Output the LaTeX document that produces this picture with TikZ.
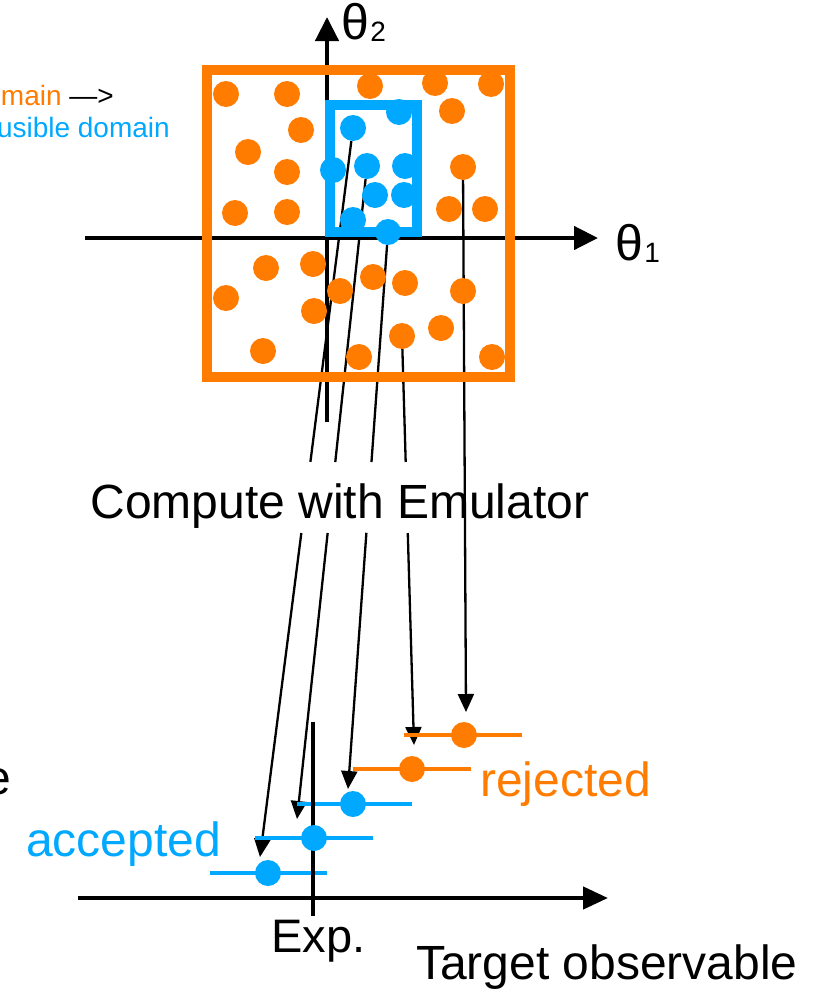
\documentclass[tikz,border=0pt]{standalone}
\usepackage{fontspec}
\setmainfont{Liberation Sans}
\usetikzlibrary{arrows.meta,calc}
\definecolor{orng}{RGB}{255,124,0}
\definecolor{skyb}{RGB}{0,168,255}
\pgfdeclarelayer{bg}
\pgfsetlayers{bg,main}
\begin{document}
\begin{tikzpicture}[x=1pt,y=-1pt,
  odot/.style={circle,fill=orng,draw=none,inner sep=0pt,minimum size=26pt},
  bdot/.style={circle,fill=skyb,draw=none,inner sep=0pt,minimum size=26pt},
  axisline/.style={line width=4.5pt,-{Triangle[length=24pt,width=23pt]}},
  conn/.style={line width=2.3pt,black},
  connarr/.style={conn,-{Triangle[length=18pt,width=16pt]}},
  ebar/.style={line width=4.5pt},
  lbl/.style={inner sep=0pt,font=\fontsize{48}{50}\selectfont},
  small/.style={inner sep=0pt,font=\fontsize{28}{30}\selectfont}
]
\useasboundingbox (0,0) rectangle (819,991);
\clip (0,0) rectangle (819,991);

% ---------- parameter space ----------
\draw[orng,line width=10pt] (206.7,70) rectangle (510,376.7);
\foreach \x/\y [count=\i] in {226/94,287/94,370/86,435/83,491/84,452/111,301/130,248/152,287/172,463/167,235/213,287/212,449/209,485/209,266/268,313/264,226/298,340/291,373/277,405/283,463/291,314/311,263/351,359/357,402/336,441/328,492/357}
  \node[odot] (o\i) at (\x,\y) {};
\draw[skyb,line width=10pt] (330,104.7) rectangle (416.7,231.7);
\foreach \x/\y [count=\i] in {399/112,353/128,333/170,367/166,405/166,375/195,404/195,353/220,388/232}
  \node[bdot] (b\i) at (\x,\y) {};

% axes
\coordinate (v0) at (327,422);
\coordinate (v1) at (327,17);
\coordinate (h0) at (85,238);
\coordinate (h1) at (598,238);
\begin{pgfonlayer}{bg}
\draw[axisline] (v0) -- (v1);
\draw[axisline] (h0) -- (h1);
\end{pgfonlayer}

\node[inner sep=0pt,anchor=base west,font=\fontsize{50}{50}\selectfont] (th2) at (341,39) {θ};
\node[inner sep=0pt,anchor=base west,font=\fontsize{28}{28}\selectfont] (th2s) at ($(th2.base east)+(1,2)$) {2};
\node[inner sep=0pt,anchor=base west,font=\fontsize{50}{50}\selectfont] (th1) at (615,260) {θ};
\node[inner sep=0pt,anchor=base west,font=\fontsize{28}{28}\selectfont] (th1s) at ($(th1.base east)+(1,2)$) {1};

\node[small,anchor=base east] (prior) at (114,105) {\textcolor{orng}{main} —>};
\node[small,anchor=base east,text=skyb] (plaus) at (170,137) {usible domain};

\node[lbl,anchor=base west] (cut) at (-16,794) {e};

\node[inner sep=0pt,anchor=base,font=\fontsize{48}{50}\selectfont] (comp) at (340,518) {Compute with Emulator};

% ---------- observable plot ----------
\coordinate (t1) at (260,857);
\coordinate (t2) at (297,819);
\coordinate (t3) at (348,789);
\coordinate (t4) at (414,745);
\coordinate (t5) at (466,712);

\coordinate (g1a) at ($(b2.center)!0.458!(t1)$);
\coordinate (g1b) at ($(b2.center)!0.5556!(t1)$);
\coordinate (g2a) at ($(b4.center)!0.4533!(t2)$);
\coordinate (g2b) at ($(b4.center)!0.562!(t2)$);
\coordinate (g3a) at ($(b9.center)!0.413!(t3)$);
\coordinate (g3b) at ($(b9.center)!0.540!(t3)$);
\coordinate (g4a) at ($(o25.center)!0.308!(t4)$);
\coordinate (g4b) at ($(o25.center)!0.4817!(t4)$);

\begin{pgfonlayer}{bg}
\draw[conn] (b2) -- (g1a);
\draw[connarr] (g1b) -- (t1);
\draw[conn] (b4) -- (g2a);
\draw[connarr] (g2b) -- (t2);
\draw[conn] (b9) -- (g3a);
\draw[connarr] (g3b) -- (t3);
\draw[conn] (o25) -- (g4a);
\draw[connarr] (g4b) -- (t4);
\draw[connarr] (o10) -- (t5);
\end{pgfonlayer}

\coordinate (x0) at (78,898);
\coordinate (x1) at (608,898);
\draw[line width=4.5pt,-{Triangle[length=25pt,width=22pt]}] (x0) -- (x1);

\draw[ebar,skyb] (210,873) -- (327,873);
\draw[ebar,skyb] (255,838) -- (373,838);
\draw[ebar,skyb] (297,804) -- (412,804);
\draw[ebar,orng] (353,769) -- (471,769);
\draw[ebar,orng] (404,735) -- (522,735);

\coordinate (ex0) at (313,722);
\coordinate (ex1) at (313,916);
\draw[line width=4.5pt] (ex0) -- (ex1);

\node[bdot] (e1) at (268,873) {};
\node[bdot] (e2) at (314,838) {};
\node[bdot] (e3) at (353,804) {};
\node[odot] (e4) at (412,769) {};
\node[odot] (e5) at (464,735) {};

\node[lbl,anchor=base west,font=\fontsize{47}{49}\selectfont] (exp) at (271,952) {Exp.};
\node[lbl,anchor=base west] (targ) at (416,979) {Target observable};
\node[lbl,anchor=base west,text=skyb] (acc) at (26,856) {accepted};
\node[lbl,anchor=base west,text=orng] (rej) at (480,796) {rejected};
\end{tikzpicture}
\end{document}
